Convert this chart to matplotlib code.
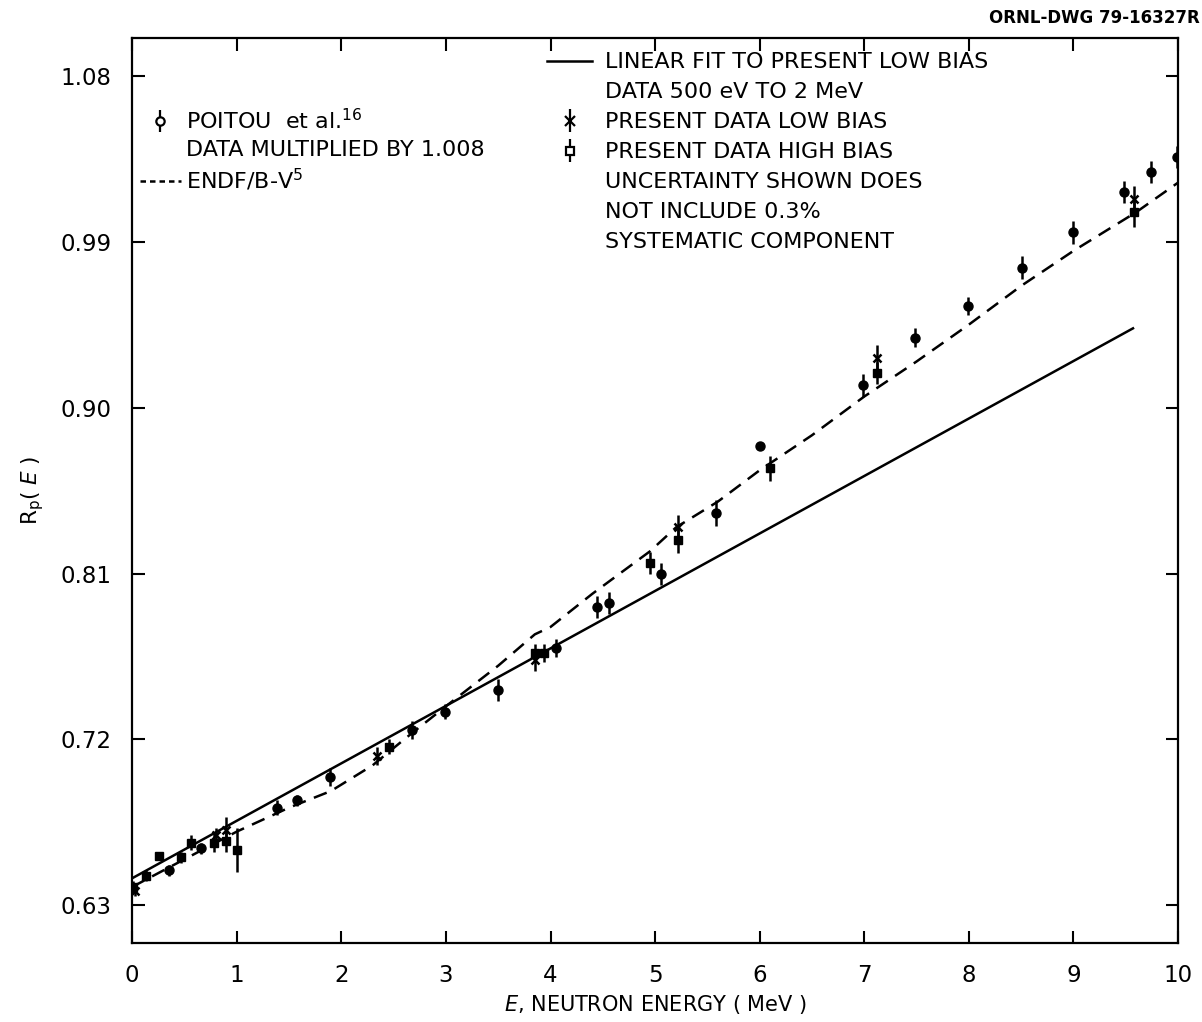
import numpy as np
import matplotlib
matplotlib.use('Agg')
import matplotlib.pyplot as plt
from matplotlib.lines import Line2D
from matplotlib.ticker import FormatStrFormatter

# Poitou et al. data (multiplied by 1.008)
poitou_e = [0.35, 0.66, 1.38, 1.58, 1.89, 2.68, 2.99, 3.50, 4.05, 4.44, 4.56,
            5.06, 5.58, 6.00, 6.99, 7.49, 7.99, 8.51, 9.00, 9.48, 9.74, 9.99]
poitou_r = [0.649, 0.661, 0.683, 0.687, 0.6995, 0.725, 0.735, 0.747, 0.7695, 0.792, 0.794,
            0.8097, 0.843, 0.879, 0.912, 0.938, 0.955, 0.976, 0.995, 1.017, 1.028, 1.036]
poitou_err = [0.003, 0.003, 0.004, 0.003, 0.005, 0.005, 0.004, 0.006, 0.005, 0.006, 0.006,
              0.006, 0.007, 0.001, 0.006, 0.005, 0.005, 0.006, 0.006, 0.006, 0.006, 0.006]

# present data, high bias
high_e = [0.01, 0.13, 0.26, 0.47, 0.56, 0.78, 0.90, 1.00, 2.46, 3.85, 3.94,
          4.95, 5.22, 6.10, 7.12, 9.58]
high_r = [0.640, 0.646, 0.6566, 0.656, 0.664, 0.664, 0.665, 0.660, 0.716, 0.767, 0.767,
          0.8157, 0.828, 0.867, 0.919, 1.006]
high_err = [0.003, 0.003, 0.002, 0.003, 0.004, 0.005, 0.006, 0.012, 0.004, 0.005, 0.005,
            0.006, 0.007, 0.007, 0.006, 0.008]

# present data, low bias
low_e = [0.03, 0.80, 0.90, 2.34, 3.85, 5.22, 7.12, 9.58]
low_r = [0.638, 0.668, 0.671, 0.711, 0.763, 0.835, 0.927, 1.013]
low_err = [0.003, 0.004, 0.007, 0.005, 0.006, 0.007, 0.007, 0.007]

# ENDF/B-V evaluation
endf_e = [0.0, 0.5, 1.0, 1.5, 1.9, 2.3, 2.6, 3.0, 3.5, 3.85, 4.0, 4.4, 4.95,
          5.2, 5.6, 6.0, 6.5, 7.0, 7.5, 8.0, 8.5, 9.0, 9.6, 10.0]
endf_r = [0.640, 0.655, 0.670, 0.683, 0.692, 0.706, 0.720, 0.738, 0.760, 0.777, 0.781, 0.799, 0.822,
          0.835, 0.849, 0.866, 0.885, 0.906, 0.925, 0.945, 0.966, 0.985, 1.006, 1.022]

# linear fit to low bias data 500 eV to 2 MeV
fit_e = [0.0, 9.57]
fit_r = [0.6447, 0.943]

x_ticks = [0, 1, 2, 3, 4, 5, 6, 7, 8, 9, 10]
y_ticks = [0.63, 0.72, 0.81, 0.90, 0.99, 1.08]

fig = plt.figure(figsize=(12.02, 10.22), dpi=100)
ax = fig.add_axes([0.110, 0.077, 0.870, 0.886])

ax.plot(fit_e, fit_r, color='black', lw=1.8)
ax.plot(endf_e, endf_r, color='black', lw=1.8, dashes=(5.5, 3.5))

ax.errorbar(poitou_e, poitou_r, yerr=poitou_err, fmt='o', color='black', ms=6.5,
            elinewidth=1.8, capsize=0)
ax.errorbar(high_e, high_r, yerr=high_err, fmt='s', color='black', ms=6,
            elinewidth=1.8, capsize=0)
ax.errorbar(low_e, low_r, yerr=low_err, fmt='x', color='black', ms=6, mew=1.8,
            elinewidth=1.8, capsize=0)

ax.set_xlim(0, 10)
ax.set_ylim(0.6094, 1.1006)
ax.set_xticks(x_ticks)
ax.set_yticks(y_ticks)
ax.yaxis.set_major_formatter(FormatStrFormatter('%.2f'))
ax.tick_params(direction='in', length=9, width=1.5, top=True, right=True,
               labelsize=16.5, pad=15)
for s in ax.spines.values():
    s.set_linewidth(1.6)

ax.set_xlabel(r'$E$, NEUTRON ENERGY ( MeV )', fontsize=15, labelpad=4)
ax.set_ylabel(r'R$_\mathrm{p}$( $E$ )', fontsize=15.5, labelpad=10)

# legends, one row per text line
blank = Line2D([], [], linestyle='none')
h_fit = Line2D([], [], color='black', lw=1.8)
h_low = ax.errorbar([], [], yerr=[], fmt='x', color='black', ms=7, mew=1.6,
                    elinewidth=1.6, capsize=0)
h_high = ax.errorbar([], [], yerr=[], fmt='s', color='black', mfc='white', ms=6,
                     mew=1.6, elinewidth=1.6, capsize=0)
h_poi = ax.errorbar([], [], yerr=[], fmt='o', color='black', mfc='white', ms=6,
                    mew=1.6, elinewidth=1.6, capsize=0)
h_endf = Line2D([], [], color='black', lw=1.8, dashes=(2.2, 1.6))

right_leg = ax.legend(
    [h_fit, blank, h_low, h_high, blank, blank, blank],
    ['LINEAR FIT TO PRESENT LOW BIAS', 'DATA 500 eV TO 2 MeV',
     'PRESENT DATA LOW BIAS', 'PRESENT DATA HIGH BIAS',
     'UNCERTAINTY SHOWN DOES', 'NOT INCLUDE 0.3%', 'SYSTEMATIC COMPONENT'],
    loc='upper left', bbox_to_anchor=(0.397, 0.984), frameon=False, fontsize=16,
    handlelength=2.0, handletextpad=0.6, labelspacing=0.45, borderpad=0,
    borderaxespad=0)
ax.add_artist(right_leg)

ax.legend(
    [h_poi, blank, h_endf],
    [r'POITOU  et al.$^{16}$', 'DATA MULTIPLIED BY 1.008', r'ENDF/B-V$^5$'],
    loc='upper left', bbox_to_anchor=(0.007, 0.923), frameon=False, fontsize=16,
    handlelength=1.85, handletextpad=0.25, labelspacing=0.32, borderpad=0,
    borderaxespad=0)

fig.text(0.998, 0.982, 'ORNL-DWG 79-16327R', ha='right', va='center',
         fontsize=12, weight='bold')

fig.savefig('out.png', dpi=100)
